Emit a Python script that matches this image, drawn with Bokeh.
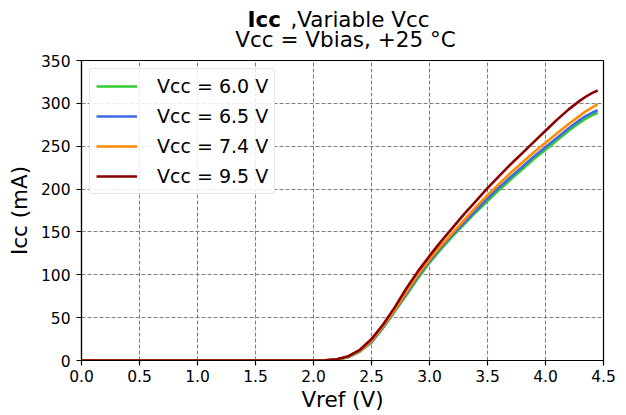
from bokeh.plotting import figure
from bokeh.models import Range1d, FixedTicker, Legend, LegendItem
from bokeh.layouts import column
from bokeh.core.properties import value
from bokeh.embed import file_html
from bokeh.resources import INLINE

vref = [0.0, 1.0, 2.0, 2.1, 2.2, 2.3, 2.4, 2.5, 2.6, 2.7, 2.8, 2.9, 3.0, 3.1, 3.2, 3.3,
        3.4, 3.5, 3.6, 3.7, 3.8, 3.9, 4.0, 4.1, 4.2, 4.3, 4.35, 4.4, 4.45]
icc_60 = [0, 0, 0, 0.1, 0.9, 3.8, 10.5, 21, 38, 57, 76, 96, 114, 130, 145, 159,
          173, 186, 199, 211, 223, 235, 246, 257, 268, 278, 282.5, 286, 289]
icc_65 = [0, 0, 0, 0.1, 1.0, 4.0, 11, 22, 39, 58, 78, 98, 116, 132, 147, 161,
          175, 189, 202, 214, 226, 238, 249, 260, 271, 281, 285.5, 289, 292]
icc_74 = [0, 0, 0, 0.1, 1.2, 4.5, 11.5, 23, 40, 59, 80, 100, 118, 134, 149, 164,
          179, 193, 206, 219, 231, 243, 254, 265, 276, 286, 291, 295, 299]
icc_95 = [0, 0, 0, 0.2, 1.5, 5.0, 12.5, 25, 42, 62, 84, 104, 122, 139, 155, 171,
          186, 201, 215, 229, 242, 255, 268, 281, 293, 303.5, 308, 312, 315]

series_names = ["Vcc = 6.0 V", "Vcc = 6.5 V", "Vcc = 7.4 V", "Vcc = 9.5 V"]
series_values = [icc_60, icc_65, icc_74, icc_95]
series_colors = ["#32CD32", "#4169E1", "#FF8C00", "#8B0000"]

x_ticks = [0.0, 0.5, 1.0, 1.5, 2.0, 2.5, 3.0, 3.5, 4.0, 4.5]
y_ticks = [0, 50, 100, 150, 200, 250, 300, 350]

title_bold = "Icc"
title_rest = ",Variable Vcc"
subtitle = "Vcc = Vbias, +25 \u00b0C"

FONT = "DejaVu Sans"
W = 626
TH = 51
MH = 415 - TH
BL, BR = 81, 23

# ---- title strip (frame spans the same pixels as the plot frame) ----
t = figure(width=W, height=TH, output_backend="svg", toolbar_location=None,
           x_range=Range1d(BL, W - BR), y_range=Range1d(0, TH),
           min_border_left=BL, min_border_right=BR, min_border_top=0, min_border_bottom=0)
t.axis.visible = False
t.grid.visible = False
t.outline_line_color = None
t.background_fill_color = "white"
t.border_fill_color = "white"
t.text(x=[280.5], y=[TH - 19], text=[title_bold], text_align="right", text_baseline="alphabetic",
       text_font=value(FONT), text_font_size="21.5px", text_font_style="bold", text_color="black")
t.text(x=[290], y=[TH - 19], text=[title_rest], text_align="left", text_baseline="alphabetic",
       text_font=value(FONT), text_font_size="21.5px", text_color="black")
t.text(x=[345], y=[TH - 39], text=[subtitle], text_align="center", text_baseline="alphabetic",
       text_font=value(FONT), text_font_size="21.5px", text_color="black")

# ---- main plot ----
p = figure(width=W, height=MH, output_backend="svg", toolbar_location=None,
           x_range=Range1d(0, 4.5), y_range=Range1d(0, 350),
           min_border_left=BL, min_border_right=BR, min_border_top=9, min_border_bottom=55)
p.background_fill_color = "white"
p.border_fill_color = "white"
p.outline_line_color = "black"
p.outline_line_width = 1.2

items = []
for name, ys, col in zip(series_names, series_values, series_colors):
    r = p.line(vref, ys, line_color=col, line_width=2.6)
    items.append(LegendItem(label=name, renderers=[r]))

for ax in (p.xaxis, p.yaxis):
    ax.axis_line_color = "black"
    ax.axis_line_width = 1.2
    ax.major_tick_line_color = "black"
    ax.major_tick_line_width = 1.2
    ax.major_tick_out = 5
    ax.major_tick_in = 0
    ax.minor_tick_line_color = None
    ax.major_label_text_font = FONT
    ax.major_label_text_font_size = "15.5px"
    ax.major_label_text_color = "black"
    ax.axis_label_text_font = FONT
    ax.axis_label_text_font_size = "21.5px"
    ax.axis_label_text_font_style = "normal"
    ax.axis_label_text_color = "black"

p.xaxis.ticker = FixedTicker(ticks=x_ticks)
p.xaxis.major_label_overrides = {tk: f"{tk:.1f}" for tk in x_ticks}
p.yaxis.ticker = FixedTicker(ticks=y_ticks)
p.xaxis.axis_label = "Vref (V)"
p.yaxis.axis_label = "Icc (mA)"
p.xaxis.major_label_standoff = 4
p.yaxis.major_label_standoff = 6
p.xaxis.axis_label_standoff = 2
p.yaxis.axis_label_standoff = 6

for g in (p.xgrid, p.ygrid):
    g.grid_line_color = "#808080"
    g.grid_line_dash = "4 2"
    g.grid_line_width = 1.1

legend = Legend(items=items, location="top_left")
legend.margin = 8
legend.padding = 6
legend.spacing = 8
legend.glyph_width = 41
legend.glyph_height = 20
legend.label_height = 20
legend.label_standoff = 20
legend.label_text_font = FONT
legend.label_text_font_size = "19px"
legend.label_text_color = "black"
legend.border_line_color = "#cccccc"
legend.border_line_width = 1
legend.background_fill_alpha = 0.85
legend.border_radius = 4
p.add_layout(legend)

layout = column(t, p, spacing=0)
open("out.html", "w").write(file_html(layout, INLINE))
